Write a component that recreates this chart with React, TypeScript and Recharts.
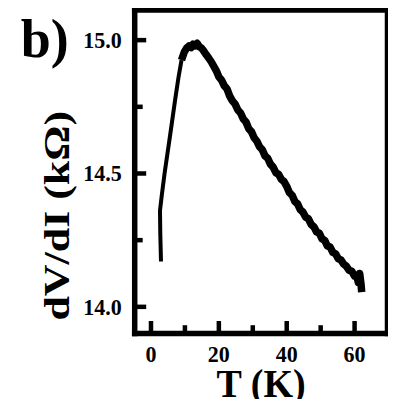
import React from 'react';
import { LineChart, Line, XAxis, YAxis, Label } from 'recharts';

// Temperature (K) and differential resistance dV/dI (kΩ), low-T rising branch
const T_RISE = [2.95, 2.75, 2.65, 3.2, 4.0, 5.6, 7.1, 8.1, 9.0];
const V_RISE = [14.17, 14.27, 14.36, 14.42, 14.5, 14.64, 14.775, 14.86, 14.925];

// Peak and the slowly falling high-T branch
const T_FALL = [
  9.0, 9.8, 10.5, 11.2, 11.8, 12.4, 13.0, 13.6, 14.2, 14.9, 15.6, 16.3, 17.0, 17.8, 18.5, 19.3,
  20.0, 20.8, 21.6, 22.4, 23.2, 24.0, 24.8, 25.6, 26.4, 27.2, 28.0, 28.8, 29.6, 30.4, 31.2, 32.0,
  32.8, 33.6, 34.4, 35.2, 36.0, 36.8, 37.6, 38.4, 39.2, 40.0, 40.8, 41.6, 42.4, 43.2, 44.0, 44.8,
  45.6, 46.4, 47.2, 48.0, 48.8, 49.6, 50.4, 51.2, 52.0, 52.8, 53.6, 54.4, 55.2, 56.0, 56.8, 57.6,
  58.4, 59.2, 60.0, 60.6, 61.1, 61.5, 61.9, 62.1,
];
const V_FALL = [
  14.925, 14.955, 14.97, 14.978, 14.972, 14.985, 14.979, 14.988, 14.976, 14.97, 14.958, 14.945,
  14.933, 14.918, 14.902, 14.884, 14.862, 14.85, 14.829, 14.817, 14.79, 14.772, 14.76, 14.738,
  14.727, 14.704, 14.693, 14.668, 14.657, 14.634, 14.621, 14.6, 14.589, 14.566, 14.557, 14.535,
  14.524, 14.503, 14.497, 14.478, 14.47, 14.452, 14.428, 14.418, 14.395, 14.386, 14.364, 14.355,
  14.336, 14.33, 14.309, 14.3, 14.281, 14.276, 14.255, 14.249, 14.228, 14.224, 14.204, 14.199,
  14.18, 14.176, 14.16, 14.152, 14.137, 14.133, 14.115, 14.118, 14.092, 14.125, 14.085, 14.055,
];

const X_TICKS = [0, 10, 20, 30, 40, 50, 60];
const X_LABELED = [0, 20, 40, 60];
const Y_TICKS = [14.0, 14.25, 14.5, 14.75, 15.0];
const Y_LABELED = [14.0, 14.5, 15.0];

const X_DOMAIN: [number, number] = [-4.8, 69.7];
const Y_DOMAIN: [number, number] = [13.9, 15.113];

const riseRows = T_RISE.map((t, i) => ({ t, v: V_RISE[i] }));
const fallRows = T_FALL.map((t, i) => ({ t, v: V_FALL[i] }));

const INK = '#000';
const FONT = '"Liberation Serif", "Times New Roman", serif';
const frame = { stroke: INK, strokeWidth: 5.5, strokeLinecap: 'square' as const };

// Inward-pointing ticks drawn from the frame line, labels outside
const XTick = (props: any) => {
  const { x, y, payload } = props;
  const major = X_LABELED.includes(payload.value);
  return (
    <g>
      <line x1={x} x2={x} y1={y} y2={y - (major ? 12.5 : 8.3)} stroke={INK} strokeWidth={4.5} />
      {major && (
        <text
          transform={`translate(${x},${y + 28.5}) scale(1,1.08)`}
          textAnchor="middle"
          fontFamily={FONT}
          fontWeight="bold"
          fontSize={22}
          fill={INK}
        >
          {payload.value}
        </text>
      )}
    </g>
  );
};

const YTick = (props: any) => {
  const { x, y, payload } = props;
  const major = Y_LABELED.some((v) => Math.abs(v - payload.value) < 1e-6);
  return (
    <g>
      <line x1={x} x2={x + (major ? 11.5 : 8)} y1={y} y2={y} stroke={INK} strokeWidth={4.5} />
      {major && (
        <text
          transform={`translate(${x - 13},${y + 8}) scale(1,1.08)`}
          textAnchor="end"
          fontFamily={FONT}
          fontWeight="bold"
          fontSize={22}
          fill={INK}
        >
          {payload.value.toFixed(1)}
        </text>
      )}
    </g>
  );
};

const YTitle = (props: any) => {
  const vb = props.viewBox;
  const cx = vb.x + vb.width;
  return (
    <text
      transform={`translate(${cx - 66},${vb.y + vb.height / 2 + 44}) scale(1,1.22) rotate(-90)`}
      textAnchor="middle"
      fontFamily={FONT}
      fontWeight="bold"
      fontSize={36}
      fill={INK}
    >
      dV/dI (kΩ)
    </text>
  );
};

const XTitle = (props: any) => {
  const vb = props.viewBox;
  return (
    <text
      transform={`translate(${vb.x + vb.width / 2},${vb.y + 63.5}) scale(1,1.06)`}
      textAnchor="middle"
      fontFamily={FONT}
      fontWeight="bold"
      fontSize={38}
      fill={INK}
    >
      T (K)
    </text>
  );
};

const PanelTag = (props: any) => {
  const vb = props.viewBox;
  const top = vb.y + vb.height;
  return (
    <text x={vb.x - 114} y={top + 47} fontFamily={FONT} fontWeight="bold" fontSize={54} fill={INK}>
      b)
    </text>
  );
};

export default function App() {
  return (
    <div style={{ margin: '-8px', width: 396, height: 407, background: '#fff' }}>
      <LineChart width={396} height={407} margin={{ top: 9, right: 7.5, bottom: 72.5, left: 133.7 }}>
        <XAxis
          xAxisId="b"
          dataKey="t"
          type="number"
          orientation="bottom"
          domain={X_DOMAIN}
          ticks={X_TICKS}
          interval={0}
          height={1}
          tickSize={0}
          tickMargin={0}
          tickLine={false}
          axisLine={frame}
          tick={(p: any) => <XTick {...p} />}
        >
          <Label content={XTitle} />
        </XAxis>
        <XAxis
          xAxisId="top"
          dataKey="t"
          type="number"
          orientation="top"
          domain={X_DOMAIN}
          height={1}
          tick={false}
          tickLine={false}
          axisLine={frame}
        >
          <Label content={PanelTag} />
        </XAxis>
        <YAxis
          yAxisId="l"
          type="number"
          orientation="left"
          domain={Y_DOMAIN}
          ticks={Y_TICKS}
          interval={0}
          width={1}
          tickSize={0}
          tickMargin={0}
          tickLine={false}
          axisLine={frame}
          tick={(p: any) => <YTick {...p} />}
        >
          <Label content={YTitle} />
        </YAxis>
        <YAxis
          yAxisId="r"
          type="number"
          orientation="right"
          domain={Y_DOMAIN}
          width={1}
          tick={false}
          tickLine={false}
          axisLine={frame}
        />
        <Line
          xAxisId="b"
          yAxisId="l"
          data={riseRows}
          dataKey="v"
          type="linear"
          stroke={INK}
          strokeWidth={4}
          strokeLinejoin="round"
          dot={false}
          isAnimationActive={false}
        />
        <Line
          xAxisId="b"
          yAxisId="l"
          data={fallRows}
          dataKey="v"
          type="linear"
          stroke={INK}
          strokeWidth={7.5}
          strokeLinejoin="round"
          dot={false}
          isAnimationActive={false}
        />
      </LineChart>
    </div>
  );
}
